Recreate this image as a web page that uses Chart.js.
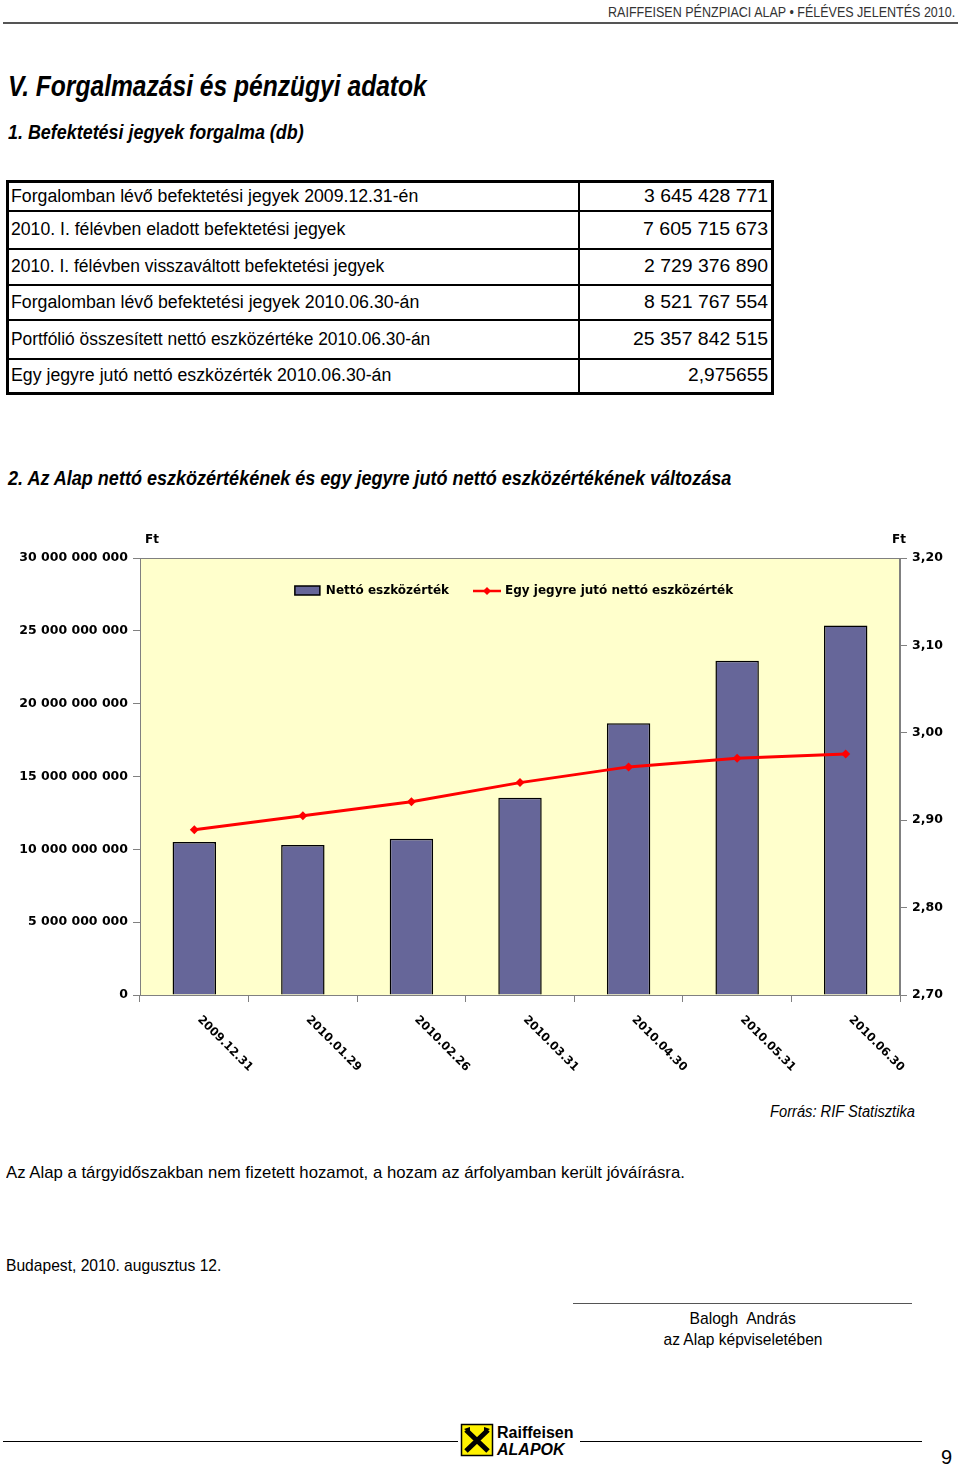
<!DOCTYPE html>
<html lang="hu">
<head>
<meta charset="utf-8">
<title>Raiffeisen Pénzpiaci Alap - V. Forgalmazási és pénzügyi adatok</title>
<script src="https://cdn.jsdelivr.net/npm/chart.js@4.4.1/dist/chart.umd.min.js"></script>
<style>
body { margin:0; width:960px; height:1470px; position:relative; background:#fff; color:#000;
       font-family:"Liberation Sans", Arial, sans-serif; overflow:hidden; }
.abs { position:absolute; white-space:nowrap; }
[data-w] { display:inline-block; transform-origin:left center; }
.r[data-w], .r [data-w] { transform-origin:right center; }
.c[data-w] { transform-origin:center center; }
#head { right:5px; top:4px; font-size:14px; color:#333; }
#rule { left:3px; top:22px; width:955px; height:2px; background:#555; }
h1, h2 { margin:0; font-style:italic; font-weight:bold; }
#t1 { left:8px; top:70px; font-size:29px; }
#t2 { left:8px; top:120px; font-size:21px; }
#t3 { left:8px; top:466px; font-size:21px; }
table { position:absolute; left:6px; top:180px; width:768px; border-collapse:collapse; border:3px solid #000; font-size:18px; }
td { border:2px solid #000; padding:0 2px; white-space:nowrap; }
td.r { text-align:right; width:186px; padding-right:3px; }
#chart { position:absolute; left:0; top:520px; }
#src { right:45px; top:1103px; font-size:16px; font-style:italic; }
#note { left:6px; top:1163px; font-size:17px; }
#place { left:6px; top:1256px; font-size:17px; }
#sigline { left:573px; top:1303px; width:339px; height:1px; background:#555; }
.sig { left:573px; width:339px; font-size:17px; text-align:center; }
#foot { left:3px; top:1441px; width:919px; height:1px; background:#000; }
#logo { left:458px; top:1421px; width:122px; height:40px; background:#fff; }
#pg { left:941px; top:1446px; font-size:20px; }
</style>
</head>
<body>
<div id="head" class="abs r" data-w="347">RAIFFEISEN PÉNZPIACI ALAP • FÉLÉVES JELENTÉS 2010.</div>
<div id="rule" class="abs"></div>

<h1 id="t1" class="abs" data-w="419">V. Forgalmazási és pénzügyi adatok</h1>
<h2 id="t2" class="abs" data-w="296">1. Befektetési jegyek forgalma (db)</h2>

<table>
  <tr style="height:29px"><td><span data-w="407">Forgalomban lévő befektetési jegyek 2009.12.31-én</span></td><td class="r"><span data-w="124">3 645 428 771</span></td></tr>
  <tr style="height:38px"><td><span data-w="334">2010. I. félévben eladott befektetési jegyek</span></td><td class="r"><span data-w="125">7 605 715 673</span></td></tr>
  <tr style="height:36px"><td><span data-w="373">2010. I. félévben visszaváltott befektetési jegyek</span></td><td class="r"><span data-w="124">2 729 376 890</span></td></tr>
  <tr style="height:35px"><td><span data-w="408">Forgalomban lévő befektetési jegyek 2010.06.30-án</span></td><td class="r"><span data-w="124">8 521 767 554</span></td></tr>
  <tr style="height:39px"><td><span data-w="419">Portfólió összesített nettó eszközértéke 2010.06.30-án</span></td><td class="r"><span data-w="135">25 357 842 515</span></td></tr>
  <tr style="height:35px"><td><span data-w="380">Egy jegyre jutó nettó eszközérték 2010.06.30-án</span></td><td class="r"><span data-w="80">2,975655</span></td></tr>
</table>

<h2 id="t3" class="abs" data-w="723">2. Az Alap nettó eszközértékének és egy jegyre jutó nettó eszközértékének változása</h2>

<canvas id="chart" width="960" height="570"></canvas>

<div id="src" class="abs r" data-w="145">Forrás: RIF Statisztika</div>
<div id="note" class="abs" data-w="679">Az Alap a tárgyidőszakban nem fizetett hozamot, a hozam az árfolyamban került jóváírásra.</div>
<div id="place" class="abs" data-w="215">Budapest, 2010. augusztus 12.</div>
<div id="sigline" class="abs"></div>
<div class="abs sig" style="top:1309px"><span class="c" data-w="106">Balogh&nbsp; András</span></div>
<div class="abs sig" style="top:1330px"><span class="c" data-w="159">az Alap képviseletében</span></div>

<div id="foot" class="abs"></div>
<div id="logo" class="abs">
  <svg width="122" height="40" viewBox="0 0 122 40">
    <rect x="3.5" y="3.5" width="31" height="31" fill="#FFF200" stroke="#000" stroke-width="1.5"/>
    <path d="M8 9 L30 30 M30 9 L8 30" stroke="#000" stroke-width="5"/>
    <path d="M6 8 L12 6 L12 12 Z M32 8 L26 6 L26 12 Z" fill="#000"/>
    <text x="39" y="17" font-family="Liberation Sans" font-weight="bold" font-size="16">Raiffeisen</text>
    <text x="39" y="34" font-family="Liberation Sans" font-weight="bold" font-style="italic" font-size="16">ALAPOK</text>
  </svg>
</div>
<div id="pg" class="abs">9</div>

<script>
var DATES = ['2009.12.31', '2010.01.29', '2010.02.26', '2010.03.31', '2010.04.30', '2010.05.31', '2010.06.30'];
var NET_ASSET = [10.50e9, 10.30e9, 10.73e9, 13.54e9, 18.65e9, 22.95e9, 25.36e9];
var PER_UNIT = [2.889, 2.905, 2.921, 2.943, 2.961, 2.971, 2.9757];
var LEFT_MAX = 30e9, LEFT_STEP = 5e9;
var RIGHT_MIN = 2.7, RIGHT_MAX = 3.2, RIGHT_STEP = 0.1;

var BAR_COLOR = '#666699';
var LINE_COLOR = '#FF0000';
var AXIS_COLOR = '#808080';
var BOLD = { family: 'DejaVu Sans', weight: 'bold', size: 12.5 };

// squeeze the page texts to the widths of the printed ones
document.querySelectorAll('[data-w]').forEach(function (el) {
    el.style.transform = 'scaleX(' + (+el.dataset.w / el.offsetWidth) + ')';
});

function spaced(n) {
    return String(Math.round(n)).replace(/\B(?=(\d{3})+(?!\d))/g, ' ');
}

// legend sits inside the plot, one row, like the Excel original
function drawLegend(chart) {
    var ctx = chart.ctx, a = chart.chartArea;
    var ds = chart.data.datasets;
    ctx.font = 'bold 12px "DejaVu Sans"';
    var w0 = ctx.measureText(ds[0].label).width;
    var w1 = ctx.measureText(ds[1].label).width;
    var total = 26 + 5 + w0 + 24 + 28 + 4 + w1;
    var x = (a.left + a.right) / 2 - 6 - total / 2;
    var y = a.top + 33;

    ctx.fillStyle = BAR_COLOR;
    ctx.fillRect(x, y - 5, 25, 9);
    ctx.strokeStyle = '#000'; ctx.lineWidth = 1.5;
    ctx.strokeRect(x, y - 5, 25, 9);
    ctx.fillStyle = '#000';
    ctx.textBaseline = 'middle'; ctx.textAlign = 'left';
    ctx.fillText(ds[0].label, x + 31, y);

    x += 31 + w0 + 24;
    ctx.strokeStyle = LINE_COLOR; ctx.lineWidth = 2.5;
    ctx.beginPath(); ctx.moveTo(x, y); ctx.lineTo(x + 28, y); ctx.stroke();
    ctx.fillStyle = LINE_COLOR;
    ctx.beginPath();
    ctx.moveTo(x + 14, y - 4); ctx.lineTo(x + 18, y); ctx.lineTo(x + 14, y + 4); ctx.lineTo(x + 10, y);
    ctx.closePath(); ctx.fill();
    ctx.fillStyle = '#000';
    ctx.fillText(ds[1].label, x + 32, y);
}

var plotFrame = {
    id: 'plotFrame',
    beforeDraw: function (chart) {
        var a = chart.chartArea, ctx = chart.ctx;
        ctx.save();
        ctx.fillStyle = '#FFFFCC';
        ctx.fillRect(a.left, a.top, a.right - a.left, a.bottom - a.top);
        ctx.strokeStyle = AXIS_COLOR; ctx.lineWidth = 1;
        ctx.strokeRect(a.left + 0.5, a.top + 0.5, a.right - a.left - 1, a.bottom - a.top);
        drawLegend(chart);
        ctx.restore();
    },
    afterDraw: function (chart) {
        var a = chart.chartArea, ctx = chart.ctx, xs = chart.scales.x;
        ctx.save();
        ctx.fillStyle = '#000';
        ctx.font = 'bold 11.5px "DejaVu Sans"';
        ctx.textBaseline = 'middle';
        ctx.textAlign = 'left';
        DATES.forEach(function (d, i) {
            ctx.save();
            ctx.translate(xs.getPixelForTick(i) + 5, a.bottom + 23);
            ctx.rotate(Math.PI / 4);
            ctx.fillText(d, 0, 0);
            ctx.restore();
        });
        ctx.font = 'bold 12px "DejaVu Sans"';
        ctx.textBaseline = 'alphabetic';
        ctx.fillText('Ft', a.left + 5, a.top - 15);
        ctx.fillText('Ft', a.right - 8, a.top - 15);
        ctx.restore();
    }
};

new Chart(document.getElementById('chart'), {
    type: 'bar',
    data: {
        labels: DATES,
        datasets: [
            {
                type: 'bar', label: 'Nettó eszközérték', data: NET_ASSET, yAxisID: 'y', order: 2,
                backgroundColor: BAR_COLOR, borderColor: '#000', borderWidth: 1.5,
                barPercentage: 0.4, categoryPercentage: 1
            },
            {
                type: 'line', label: 'Egy jegyre jutó nettó eszközérték', data: PER_UNIT, yAxisID: 'y1', order: 1,
                borderColor: LINE_COLOR, backgroundColor: LINE_COLOR, borderWidth: 3,
                pointStyle: 'rectRot', pointRadius: 4.5, pointBorderWidth: 0, tension: 0
            }
        ]
    },
    options: {
        responsive: false,
        animation: false,
        devicePixelRatio: 1,
        layout: { padding: { top: 38 } },
        plugins: {
            tooltip: { enabled: false },
            legend: { display: false }
        },
        scales: {
            x: {
                grid: { drawOnChartArea: false, color: AXIS_COLOR, tickLength: 7, offset: true },
                border: { color: AXIS_COLOR },
                ticks: { display: false },
                afterFit: function (s) { s.height = 95; }
            },
            y: {
                position: 'left', min: 0, max: LEFT_MAX,
                grid: { drawOnChartArea: false, color: AXIS_COLOR, tickLength: 7 },
                border: { color: AXIS_COLOR },
                ticks: { stepSize: LEFT_STEP, color: '#000', font: BOLD, padding: 5, callback: spaced },
                afterFit: function (s) { s.width = 140; }
            },
            y1: {
                position: 'right', min: RIGHT_MIN, max: RIGHT_MAX,
                grid: { drawOnChartArea: false, color: AXIS_COLOR, tickLength: 7 },
                border: { color: AXIS_COLOR },
                ticks: {
                    stepSize: RIGHT_STEP, color: '#000', font: BOLD, padding: 5,
                    callback: function (v) { return v.toFixed(2).replace('.', ','); }
                },
                afterFit: function (s) { s.width = 60; }
            }
        }
    },
    plugins: [plotFrame]
});
</script>
</body>
</html>
